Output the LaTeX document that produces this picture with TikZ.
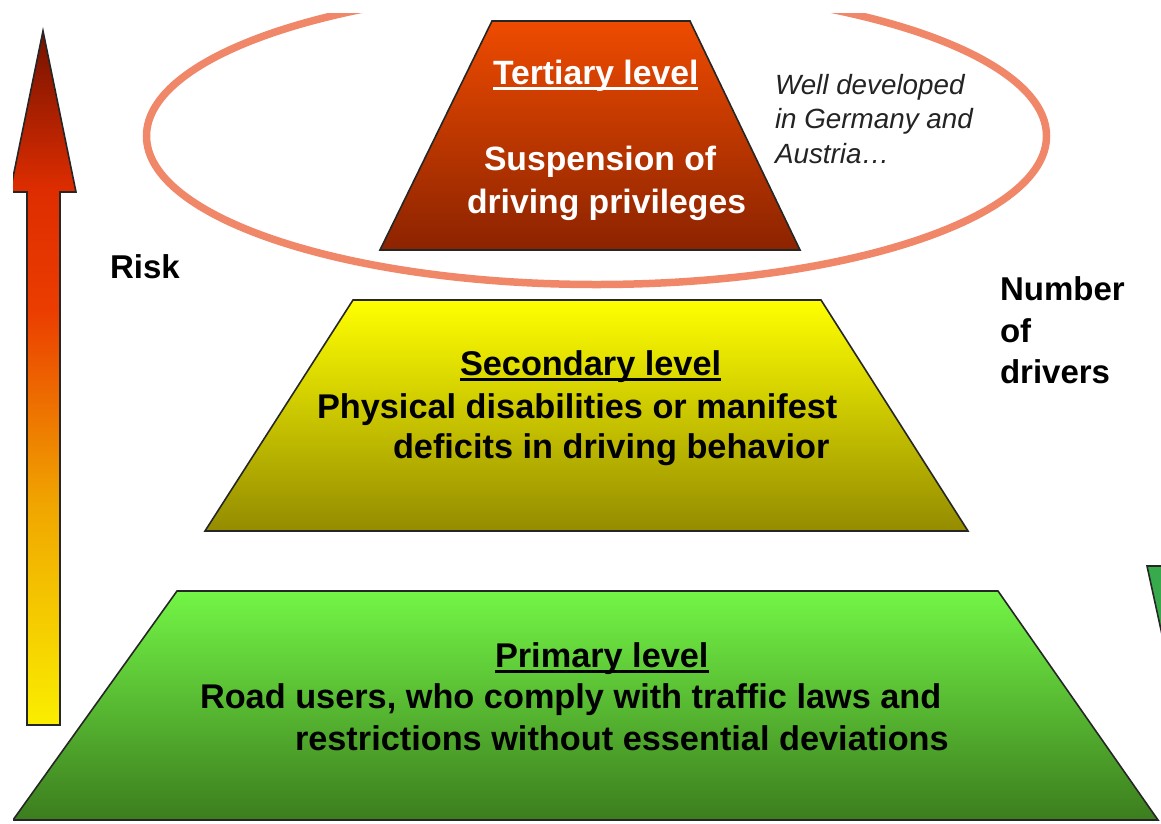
\documentclass[tikz,border=0pt]{standalone}
\usepackage{fontspec}
\setmainfont{Liberation Sans}
\definecolor{ryel}{RGB}{250,238,0}
\definecolor{rora}{RGB}{240,165,0}
\definecolor{rred}{RGB}{235,60,0}
\definecolor{rredb}{RGB}{222,45,0}
\definecolor{rdark}{RGB}{115,18,0}
\definecolor{tertTop}{RGB}{238,75,0}
\definecolor{tertBot}{RGB}{140,35,0}
\definecolor{secTop}{RGB}{255,255,0}
\definecolor{secBot}{RGB}{148,140,0}
\definecolor{priTop}{RGB}{115,245,70}
\definecolor{priBot}{RGB}{60,125,30}
\definecolor{sideGreen}{RGB}{55,170,75}
\definecolor{ringCol}{RGB}{240,135,105}
\definecolor{noteCol}{RGB}{35,35,35}
\pgfdeclareverticalshading{riskshade}{100bp}{color(0bp)=(ryel); color(25bp)=(ryel); color(41bp)=(rora); color(55bp)=(rred); color(63.5bp)=(rredb); color(75bp)=(rdark); color(100bp)=(rdark)}
\newcommand\ulbox[1]{\setbox0\hbox{#1}\rlap{\rule[-0.17em]{\wd0}{0.075em}}\box0}
\begin{document}
\begin{tikzpicture}[x=1pt,y=-1pt,
  every node/.style={inner sep=0pt, outer sep=0pt, anchor=base west},
  levelbox/.style={draw=black!85, line width=1.6pt, line join=miter},
  bigtxt/.style={font=\fontsize{34.3}{40}\selectfont\bfseries},
  tertxt/.style={font=\fontsize{33.7}{40}\selectfont\bfseries, text=white},
  sidetxt/.style={font=\fontsize{33}{40}\selectfont\bfseries},
  notetxt/.style={font=\fontsize{27.8}{34}\selectfont\itshape, text=noteCol},
  ring/.style={draw=ringCol, line width=7.5pt}]
\useasboundingbox (0,0) rectangle (1161,823);
\begin{scope}
\clip (13,13) rectangle (1161,823);
% ellipse around tertiary level
\draw[ring] (596.5,136) ellipse [x radius=450, y radius=148.5];
% risk arrow
\draw[draw=black!85, line width=1.6pt, shading=riskshade]
  (60,725) -- (60,192) -- (76,192) -- (43,31) -- (10,192) -- (27,192) -- (27,725) -- cycle;
% tertiary
\draw[levelbox, top color=tertTop, bottom color=tertBot]
  (492,21) -- (690,21) -- (800,250) -- (380,250) -- cycle;
% secondary
\draw[levelbox, top color=secTop, bottom color=secBot]
  (353,300) -- (821,300) -- (968,531) -- (205,531) -- cycle;
% primary
\draw[levelbox, top color=priTop, bottom color=priBot]
  (177,591) -- (998,591) -- (1158,820) -- (13,820) -- cycle;
% partial shape at right edge
\draw[levelbox, fill=sideGreen]
  (1147,566) -- (1250,566) -- (1250,694) -- (1175,694) -- cycle;
\end{scope}
% texts
\node[tertxt] (t1) at (493,84) {\ulbox{Tertiary level}};
\node[tertxt] (t2) at (484,170) {Suspension of};
\node[tertxt] (t3) at (467,213) {driving privileges};
\node[bigtxt] (s1) at (460,375) {\ulbox{Secondary level}};
\node[bigtxt] (s2) at (317,418) {Physical disabilities or manifest};
\node[bigtxt] (s3) at (393,458) {deficits in driving behavior};
\node[bigtxt] (p1) at (495,667) {\ulbox{Primary level}};
\node[bigtxt] (p2) at (200,708) {Road users, who comply with traffic laws and};
\node[bigtxt] (p3) at (295,750) {restrictions without essential deviations};
\node[sidetxt] (risk) at (110,278) {Risk};
\node[sidetxt] (n1) at (1000,300) {Number};
\node[sidetxt] (n2) at (1000,342) {of};
\node[sidetxt] (n3) at (1000,383) {drivers};
\node[notetxt] (w1) at (775,94) {Well developed};
\node[notetxt] (w2) at (775,128) {in Germany and};
\node[notetxt] (w3) at (775,163) {Austria…};
\end{tikzpicture}
\end{document}
